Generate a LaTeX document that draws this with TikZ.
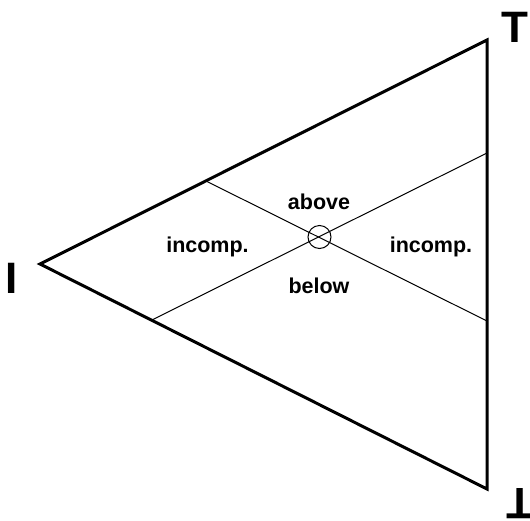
\documentclass[tikz,border=0pt]{standalone}
\usepackage{fontspec}
\setmainfont{Liberation Sans}
\begin{document}
\begin{tikzpicture}[x=1pt,y=-1pt,
  edge/.style={line width=3pt,line join=miter},
  thin/.style={line width=1pt},
  lbl/.style={font=\fontsize{21.5}{25}\selectfont\bfseries,anchor=base,inner sep=0pt},
  vlbl/.style={font=\fontsize{44}{50}\selectfont\bfseries,anchor=base,inner sep=0pt}]
\useasboundingbox (0,0) rectangle (530,520);
\coordinate (I) at (40,264);
\coordinate (T) at (487,40);
\coordinate (B) at (487,489);
\coordinate (a1) at (206,181);
\coordinate (a2) at (487,321);
\coordinate (b1) at (152,320);
\coordinate (b2) at (487,153);
\node[draw,circle,thin,minimum size=23pt,inner sep=0pt] (c) at (319.5,237) {};
\draw[thin] (a1) -- (a2);
\draw[thin] (b1) -- (b2);
\draw[edge] (I) -- (T) -- (B) -- cycle;
\node[lbl] (above) at (319,209) {above};
\node[lbl] (below) at (319,293) {below};
\node[lbl] (incl) at (207.5,252) {incomp.};
\node[lbl] (incr) at (431,252) {incomp.};
\node[vlbl] (tl) at (514.5,42) {T};
\node[vlbl] (il) at (12,293) {I};
\node[vlbl,rotate=180] (bl) at (520,488) {T};
\end{tikzpicture}
\end{document}
